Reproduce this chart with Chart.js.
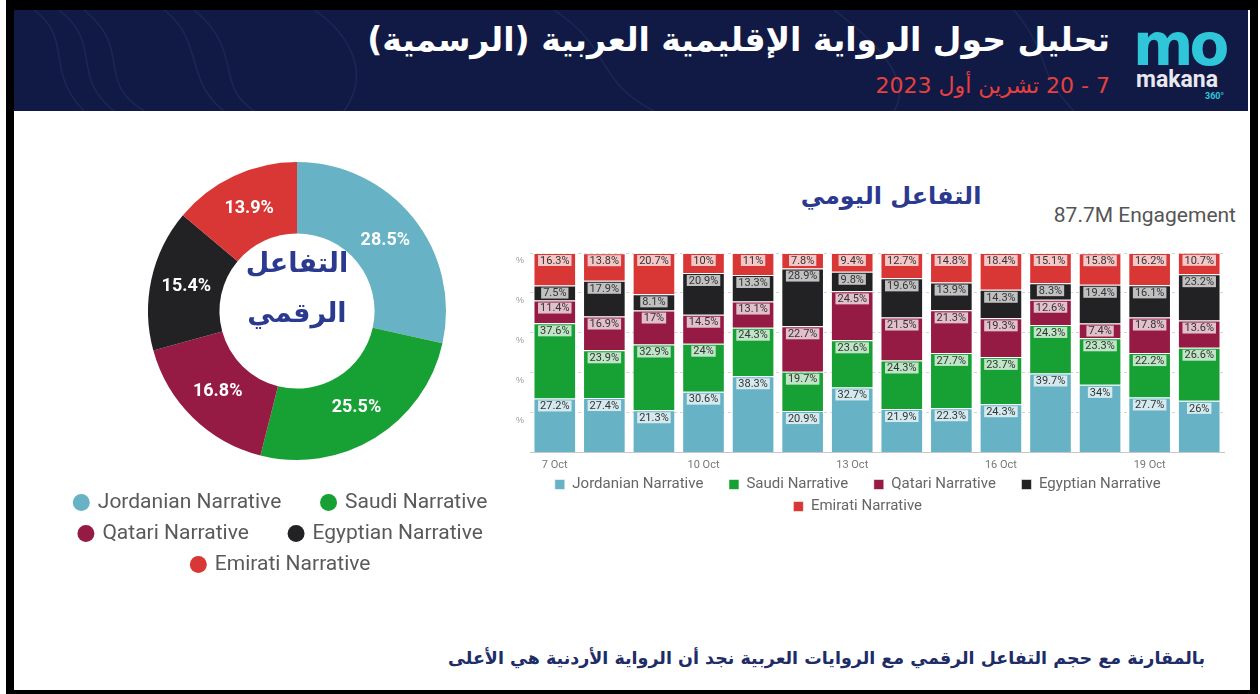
<!DOCTYPE html>
<html>
<head>
<meta charset="utf-8">
<script src="https://cdn.jsdelivr.net/npm/chart.js@4.4.1/dist/chart.umd.min.js"></script>
<style>
  html,body{margin:0;padding:0;background:#fff;width:1260px;height:694px;overflow:hidden;font-family:Roboto,"DejaVu Sans",sans-serif;}
  .abs{position:absolute;}
  #frameTop{left:6px;top:0;width:1252px;height:10px;background:#000;}
  #frameL{left:6px;top:0;width:8px;height:694px;background:#000;}
  #frameR{left:1250px;top:0;width:8px;height:694px;background:#000;}
  #frameB{left:6px;top:690px;width:1252px;height:4px;background:#000;}
  #header{left:14px;top:10px;width:1234px;height:101px;background:#101a45;overflow:hidden;}
  #title{right:150px;top:20px;color:#fff;font-family:"DejaVu Sans",sans-serif;font-weight:bold;font-size:33px;direction:rtl;white-space:nowrap;}
  #subtitle{right:150px;top:73px;color:#e8403e;font-family:"DejaVu Sans",sans-serif;font-size:22px;direction:rtl;white-space:nowrap;}
  #logoMo{left:1133px;top:16px;color:#2ec6d8;font-family:"DejaVu Sans",sans-serif;font-weight:bold;font-size:58px;letter-spacing:-4px;line-height:58px;}
  #logoMk{left:1136px;top:66px;color:#e8e8ee;font-family:Roboto,sans-serif;font-weight:bold;font-size:23px;}
  #logo360{left:1205px;top:91px;color:#2ec6d8;font-family:Roboto,sans-serif;font-weight:bold;font-size:9px;}
  #donutCenter{left:197px;top:238px;width:200px;text-align:center;color:#2b3a8f;font-family:"DejaVu Sans",sans-serif;font-weight:bold;font-size:27px;line-height:50px;direction:rtl;}
  #barTitle{left:791px;top:182px;width:200px;text-align:center;color:#2b3a8f;font-family:"DejaVu Sans",sans-serif;font-weight:bold;font-size:24px;direction:rtl;white-space:nowrap;}
  #engage{right:24px;top:203px;color:#555;font-family:Roboto,sans-serif;font-size:21px;}
  #footer{right:55px;top:648px;color:#202c66;font-family:"DejaVu Sans",sans-serif;font-weight:bold;font-size:17.5px;direction:rtl;white-space:nowrap;}
  #donutWrap{left:57px;top:140px;width:480px;height:445px;}
  #barWrap{left:505px;top:240px;width:740px;height:284px;}
</style>
</head>
<body>
<div class="abs" id="header">
  <svg width="1234" height="101" style="position:absolute;left:0;top:0" fill="none" stroke="#1c2755" stroke-width="1.5">
    <path d="M20 0 C60 30 30 60 70 101"/>
    <path d="M45 0 C90 35 55 65 100 101"/>
    <path d="M70 0 C120 40 80 70 130 101"/>
    <path d="M150 0 C190 30 170 70 210 101"/>
    <path d="M180 0 C230 40 200 75 240 101"/>
    <path d="M300 0 C330 20 360 60 330 101"/>
    <path d="M540 0 C600 40 580 70 640 101"/>
    <path d="M820 0 C860 30 900 70 880 101"/>
    <path d="M1000 0 C1040 50 1020 60 1060 101"/>
  </svg>
</div>
<div class="abs" id="frameTop"></div>
<div class="abs" id="frameL"></div>
<div class="abs" id="frameR"></div>
<div class="abs" id="frameB"></div>
<div class="abs" id="title">تحليل حول الرواية الإقليمية العربية (الرسمية)</div>
<div class="abs" id="subtitle">7 - 20 تشرين أول 2023</div>
<div class="abs" id="logoMo">mo</div>
<div class="abs" id="logoMk">makana</div>
<div class="abs" id="logo360">360°</div>

<div class="abs" id="donutWrap"><canvas id="donut"></canvas></div>
<div class="abs" id="donutCenter">التفاعل<br>الرقمي</div>

<div class="abs" id="barTitle">التفاعل اليومي</div>
<div class="abs" id="engage">87.7M Engagement</div>
<div class="abs" id="barWrap"><canvas id="bar"></canvas></div>

<div class="abs" id="footer">بالمقارنة مع حجم التفاعل الرقمي مع الروايات العربية نجد أن الرواية الأردنية هي الأعلى</div>

<script>
// ---- data ----
const narratives = ['Jordanian Narrative','Saudi Narrative','Qatari Narrative','Egyptian Narrative','Emirati Narrative'];
const colors = ['#67b3c5','#17a135','#951b45','#222225','#d93636'];
const donutShare = [28.5, 25.5, 16.8, 15.4, 13.9];
const days = ['7 Oct','8 Oct','9 Oct','10 Oct','11 Oct','12 Oct','13 Oct','14 Oct','15 Oct','16 Oct','17 Oct','18 Oct','19 Oct','20 Oct'];
const jordanian = [27.2,27.4,21.3,30.6,38.3,20.9,32.7,21.9,22.3,24.3,39.7,34,27.7,26];
const saudi     = [37.6,23.9,32.9,24,24.3,19.7,23.6,24.3,27.7,23.7,24.3,23.3,22.2,26.6];
const qatari    = [11.4,16.9,17,14.5,13.1,22.7,24.5,21.5,21.3,19.3,12.6,7.4,17.8,13.6];
const egyptian  = [7.5,17.9,8.1,20.9,13.3,28.9,9.8,19.6,13.9,14.3,8.3,19.4,16.1,23.2];
const emirati   = [16.3,13.8,20.7,10,11,7.8,9.4,12.7,14.8,18.4,15.1,15.8,16.2,10.7];
const yTicks = [0,20,40,60,80,100];

function spaced(items, n){
  const pad = '\u00a0'.repeat(n);
  return items.map(it => Object.assign(it, {text: it.text + pad}));
}

// ---- donut ----
const donutLabels = {
  id:'donutLabels',
  afterDatasetsDraw(chart){
    const ctx = chart.ctx;
    const meta = chart.getDatasetMeta(0);
    ctx.save();
    ctx.fillStyle = '#fff';
    ctx.font = 'bold 18px Roboto, sans-serif';
    ctx.textAlign = 'center';
    ctx.textBaseline = 'middle';
    meta.data.forEach((arc,i)=>{
      const p = arc.tooltipPosition();
      ctx.fillText(chart.data.datasets[0].data[i] + '%', p.x, p.y);
    });
    ctx.restore();
  }
};
new Chart(document.getElementById('donut'), {
  type:'doughnut',
  data:{labels:narratives, datasets:[{data:donutShare, backgroundColor:colors, borderWidth:0}]},
  options:{
    responsive:true, maintainAspectRatio:false, animation:false,
    radius:149, cutout:89,
    layout:{padding:{top:0,bottom:0}},
    plugins:{
      tooltip:{enabled:false},
      legend:{position:'bottom',
        labels:{usePointStyle:true,pointStyle:'circle',boxWidth:12,boxHeight:12,padding:10,color:'#5a5a5a',font:{size:21,family:'Roboto'},
          generateLabels:(chart)=>spaced(Chart.overrides.doughnut.plugins.legend.labels.generateLabels(chart), 6)}}
    }
  },
  plugins:[donutLabels]
});

// ---- stacked bars ----
const barLabels = {
  id:'barLabels',
  afterDatasetsDraw(chart){
    const ctx = chart.ctx;
    ctx.save();
    ctx.font = '11px Roboto, sans-serif';
    ctx.textAlign = 'center';
    ctx.textBaseline = 'middle';
    chart.data.datasets.forEach((ds,di)=>{
      const meta = chart.getDatasetMeta(di);
      meta.data.forEach((bar,i)=>{
        const txt = ds.data[i] + '%';
        const w = ctx.measureText(txt).width + 4;
        const h = 11;
        const cy = bar.y + 7.5;
        ctx.fillStyle = 'rgba(255,255,255,0.72)';
        ctx.fillRect(bar.x - w/2, cy - h/2, w, h);
        ctx.fillStyle = '#333';
        ctx.fillText(txt, bar.x, cy + 0.5);
      });
    });
    ctx.restore();
  }
};
const series = [jordanian, saudi, qatari, egyptian, emirati];
new Chart(document.getElementById('bar'), {
  type:'bar',
  data:{labels:days, datasets:series.map((d,i)=>({label:narratives[i], data:d, backgroundColor:colors[i],
      borderColor:'rgba(255,255,255,0.55)', borderWidth:1, barPercentage:0.86, categoryPercentage:1}))},
  options:{
    responsive:true, maintainAspectRatio:false, animation:false,
    layout:{padding:{left:5,right:21,top:13}},
    scales:{
      x:{stacked:true, grid:{display:false}, border:{color:'#c8c8c8'},
         ticks:{autoSkip:false, maxRotation:0, color:'#777', padding:-2, font:{size:11,family:'Roboto'},
           callback:function(v,i){return i%3===0 ? days[i] : '';}}},
      y:{stacked:true, min:0, max:100, afterBuildTicks:(ax)=>{ax.ticks = yTicks.map(v=>({value:v}));},
         grid:{color:'#d4d4d4', tickLength:0}, border:{display:false, dash:[3,3]},
         ticks:{color:'#999', font:{size:9}, labelOffset:8, padding:6, callback:(v)=>v===0?'':'%'}}
    },
    plugins:{
      tooltip:{enabled:false},
      legend:{position:'bottom',
        labels:{boxWidth:10,boxHeight:10,padding:7,color:'#666',font:{size:15,family:'Roboto'},
          generateLabels:(chart)=>spaced(Chart.defaults.plugins.legend.labels.generateLabels(chart), 5)}}
    }
  },
  plugins:[barLabels]
});
</script>
</body>
</html>
